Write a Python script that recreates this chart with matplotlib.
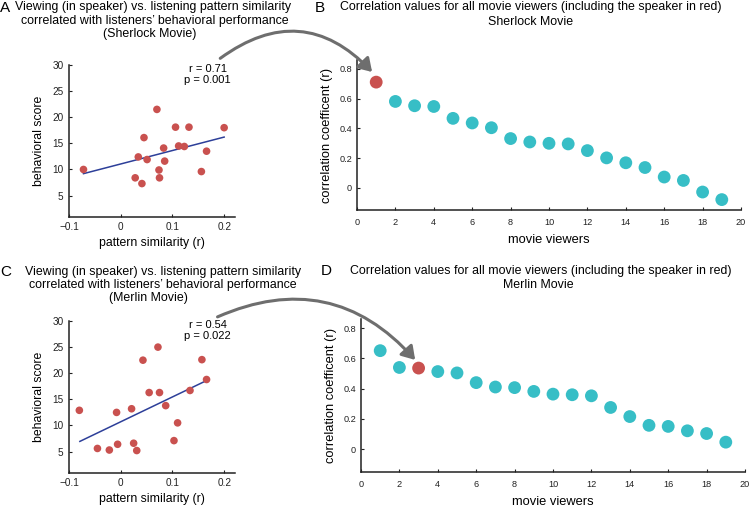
import numpy as np
import matplotlib.pyplot as plt
from matplotlib.patches import FancyArrowPatch

plt.rcParams['font.family'] = ['Liberation Sans', 'DejaVu Sans']

# panel A: Sherlock, pattern similarity vs behavioral score
sherlock_sim = [-0.072, 0.028, 0.041, 0.034, 0.045, 0.051, 0.070, 0.074, 0.075,
                0.083, 0.085, 0.106, 0.112, 0.123, 0.132, 0.166, 0.156, 0.200]
sherlock_score = [10.0, 8.4, 7.3, 12.4, 16.1, 11.9, 21.5, 9.9, 8.4,
                  14.1, 11.6, 18.1, 14.5, 14.4, 18.1, 13.5, 9.6, 18.0]
sherlock_fit_x = [-0.072, 0.200]
sherlock_fit_y = [9.2, 16.2]

# panel C: Merlin
merlin_sim = [-0.080, -0.045, -0.022, -0.008, -0.006, 0.021, 0.025, 0.031, 0.043,
              0.055, 0.072, 0.075, 0.087, 0.110, 0.103, 0.134, 0.157, 0.166]
merlin_score = [12.9, 5.6, 5.3, 12.5, 6.4, 13.2, 6.6, 5.2, 22.5,
                16.3, 25.0, 16.3, 13.8, 10.5, 7.1, 16.7, 22.6, 18.8]
merlin_fit_x = [-0.079, 0.166]
merlin_fit_y = [6.95, 18.6]

# panels B and D: correlation per movie viewer
viewers = list(range(1, 20))
sherlock_r = [0.711, 0.581, 0.552, 0.547, 0.467, 0.436, 0.404, 0.331, 0.308, 0.299,
              0.295, 0.250, 0.201, 0.168, 0.136, 0.072, 0.049, -0.029, -0.080]
sherlock_speaker = 1
merlin_r = [0.651, 0.540, 0.536, 0.513, 0.504, 0.440, 0.411, 0.407, 0.382, 0.364,
            0.360, 0.353, 0.276, 0.216, 0.158, 0.151, 0.122, 0.104, 0.047]
merlin_speaker = 3

RED = '#c9514f'
CYAN = '#37bec6'
BLUE = '#2d3f99'
GREY = '#6e6e6e'

W, H = 750, 507
fig = plt.figure(figsize=(W / 100, H / 100), dpi=100)


def box(l, t, r, b):
    return [l / W, 1 - b / H, (r - l) / W, (b - t) / H]


def px(x, y):
    return x / W, 1 - y / H


def style_axis(ax, tick_size, pad_x, pad_y):
    for s in ['top', 'right']:
        ax.spines[s].set_visible(False)
    for s in ['left', 'bottom']:
        ax.spines[s].set_linewidth(1.1)
        ax.spines[s].set_color('#222222')
    ax.tick_params(direction='in', length=2.5, width=0.8, labelsize=tick_size,
                   colors='#222222')
    ax.tick_params(axis='x', pad=pad_x)
    ax.tick_params(axis='y', pad=pad_y)


def scatter_panel(rect, sim, score, fx, fy, rtxt, ptxt):
    ax = fig.add_axes(rect)
    ax.plot(fx, fy, color=BLUE, lw=1.1, zorder=2)
    ax.scatter(sim, score, s=30, color=RED, edgecolors='none', zorder=3)
    ax.set_xlim(-0.1, 0.221)
    ax.set_ylim(0.9, 30)
    ax.set_xticks([-0.1, 0, 0.1, 0.2])
    ax.set_xticklabels(['\u22120.1', '0', '0.1', '0.2'])
    ax.set_yticks([5, 10, 15, 20, 25, 30])
    style_axis(ax, 7.2, 3.5, 4)
    ax.set_ylabel('behavioral score', fontsize=8.8, labelpad=5)
    ax.set_xlabel('pattern similarity (r)', fontsize=8.8, labelpad=3.5)
    ax.text(0.835, 0.972, rtxt, transform=ax.transAxes, ha='center', va='center', fontsize=8)
    ax.text(0.835, 0.9, ptxt, transform=ax.transAxes, ha='center', va='center', fontsize=8)
    return ax


def viewer_panel(rect, r, speaker):
    ax = fig.add_axes(rect)
    cols = [RED if v == speaker else CYAN for v in viewers]
    ax.scatter(viewers, r, s=85, color=cols, edgecolors='none', zorder=3)
    ax.set_xlim(0, 20)
    ax.set_ylim(-0.15, 0.86)
    ax.set_xticks(range(0, 21, 2))
    ax.set_yticks([0, 0.2, 0.4, 0.6, 0.8])
    ax.set_yticklabels(['0', '0.2', '0.4', '0.6', '0.8'])
    style_axis(ax, 6.6, 6, 3.5)
    ax.set_ylabel('correlation coefficent (r)', fontsize=9.3, labelpad=4.5)
    ax.set_xlabel('movie viewers', fontsize=9.3, labelpad=4.5)
    return ax


scatter_panel(box(69, 65, 235, 217), sherlock_sim, sherlock_score,
              sherlock_fit_x, sherlock_fit_y, 'r = 0.71', 'p = 0.001')
scatter_panel(box(69, 321, 235, 473), merlin_sim, merlin_score,
              merlin_fit_x, merlin_fit_y, 'r = 0.54', 'p = 0.022')
viewer_panel(box(357, 60, 741, 210), sherlock_r, sherlock_speaker)
viewer_panel(box(361, 319, 745, 472), merlin_r, merlin_speaker)

# titles, one line at a time
titles = [
    (153, 7.3, 'Viewing (in speaker) vs. listening pattern similarity'),
    (155, 21.0, 'correlated with listeners\u2019 behavioral performance'),
    (150, 34.5, '(Sherlock Movie)'),
    (163, 271.7, 'Viewing (in speaker) vs. listening pattern similarity'),
    (163, 285.0, 'correlated with listeners\u2019 behavioral performance'),
    (148, 298.3, '(Merlin Movie)'),
    (531, 7.3, 'Correlation values for all movie viewers (including the speaker in red)'),
    (531, 21.7, 'Sherlock Movie'),
    (541, 270.7, 'Correlation values for all movie viewers (including the speaker in red)'),
    (538, 285.0, 'Merlin Movie'),
]
for x, y, t in titles:
    fig.text(*px(x, y), t, ha='center', va='center', fontsize=8.9)

for x, y, t in [(5, 7.5, 'A'), (320, 7.5, 'B'), (6, 272, 'C'), (326, 271, 'D')]:
    fig.text(*px(x, y), t, ha='center', va='center', fontsize=11)

# curved arrows from the scatter panels to the speaker dots
for start, end, rad in [((218, 60), (374, 74), -0.45), ((215, 318), (417, 362), -0.37)]:
    arr = FancyArrowPatch(px(*start), px(*end), transform=fig.transFigure,
                          connectionstyle=f'arc3,rad={rad}',
                          arrowstyle='-|>,head_length=0.55,head_width=0.35',
                          mutation_scale=14, lw=2.2, color=GREY)
    fig.patches.append(arr)

fig.savefig('out.png', dpi=100)
